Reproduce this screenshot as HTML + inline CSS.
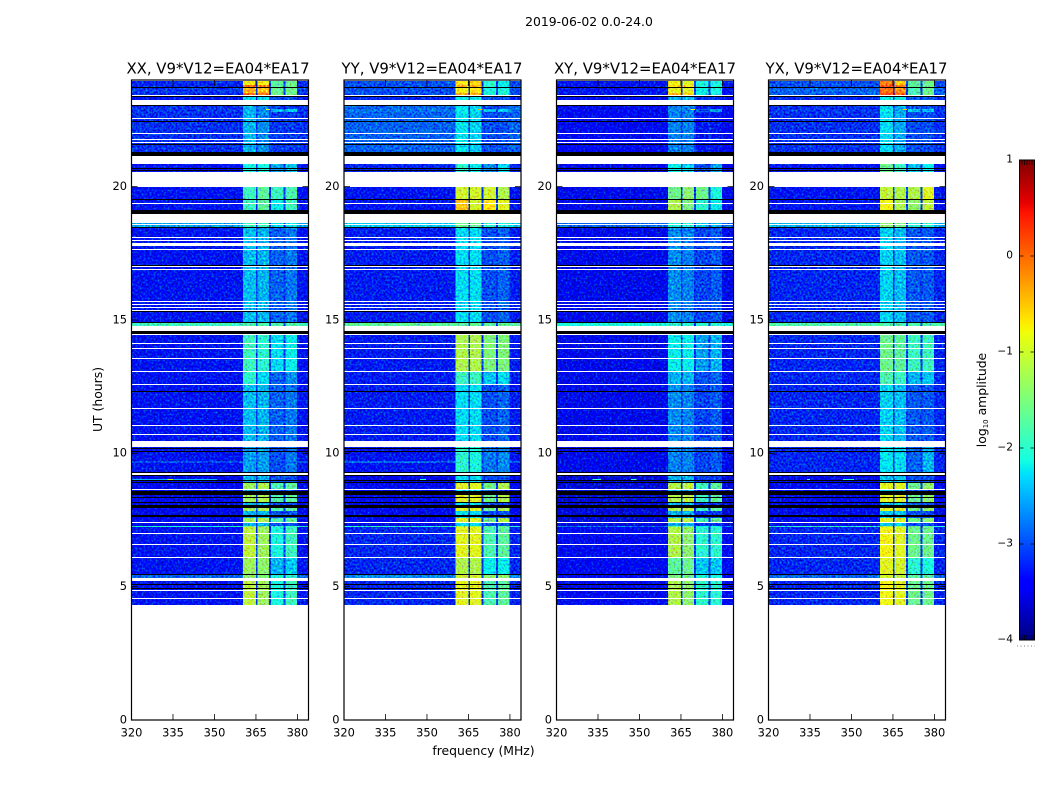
<!DOCTYPE html>
<html>
<head>
<meta charset="utf-8">
<title>2019-06-02 spectrogram</title>
<style>
  html, body { margin: 0; padding: 0; background: #fff; }
  svg { display: block; }
  text { font-family: "DejaVu Sans", "Liberation Sans", sans-serif; fill: #000; }
</style>
</head>
<body>
<svg id="chart" width="1050" height="800" viewBox="0 0 1050 800" xmlns="http://www.w3.org/2000/svg">
  <defs>
    <filter id="grain" filterUnits="userSpaceOnUse" x="0" y="0" width="1050" height="800" color-interpolation-filters="sRGB">
      <feTurbulence type="fractalNoise" baseFrequency="0.5" numOctaves="1" seed="7" result="n"/>
      <feColorMatrix in="n" type="matrix" values="0 0 0 0 0.5  1 0 0 0 0  0 1 0 0 0  0 0 0 0 1" result="g"/>
      <feComposite in="SourceGraphic" in2="g" operator="arithmetic" k1="0" k2="1" k3="1.2" k4="-0.6" result="m"/>
      <feComposite in="m" in2="SourceAlpha" operator="in"/>
    </filter>
  </defs>
  <text x="589" y="26" text-anchor="middle" font-size="12.4">2019-06-02 0.0-24.0</text>
  <text x="483.5" y="755" text-anchor="middle" font-size="12.4">frequency (MHz)</text>
  <text transform="translate(102,399.5) rotate(-90)" text-anchor="middle" font-size="12.4">UT (hours)</text>
  <text transform="translate(986,400) rotate(-90)" text-anchor="middle" font-size="12.4">log<tspan font-size="7" dy="2">10</tspan><tspan dy="-2"> amplitude</tspan></text>
  <g id="panels"></g>
  <g id="colorbar"></g>
</svg>
<script>
// ---- axis data ----
const polarizations = ['XX', 'YY', 'XY', 'YX'];
const panelLefts = [131.5, 344, 556.5, 768.5];
const freqTicks = [320, 335, 350, 365, 380];
const utTicks = [0, 5, 10, 15, 20];
const freqDomain = [320, 384];
const utDomain = [0, 24];
const cbarTicks = [1, 0, -1, -2, -3, -4];
const cbarDomain = [-4, 1];

// channel edges in MHz and which level slot each span reads (0 bg,1 A,2 B,3 C,4 D,-1 band gap)
const channelEdges = [320, 360.4, 365.1, 365.5, 369.8, 370.5, 374.9, 375.6, 379.9, 384];
const channelSlots = [0, 1, -1, 2, -1, 3, -1, 4, 0];
const bandGapLevel = -3.1;

// log10 amplitude for each time zone: [background, band A, band B, band C, band D]
const levelsXX = {
  z0: [-3.2, -0.8, -0.8, -1.7, -1.6], z0a: [-3.2, 0.0, -0.1, -1.7, -1.6], z1: [-3.1, -0.4, -0.5, -1.6, -1.6], z1a: [-3.2, -0.0, -0.1, -1.6, -1.6],
  z2: [-3.3, -2.3, -2.3, -3.0, -3.0],
  z3: [-3.15, -2.5, -2.7, -3.1, -3.1], z3a: [-3.1, -2.5, -2.7, -2.5, -2.4], z4: [-3.3, -2.1, -2.1, -2.6, -2.4],
  z5: [-3.3, -1.9, -1.7, -1.9, -1.8], z6: [-3.3, -1.9, -1.7, -2.2, -1.9], z7: [-2.6, -1.9, -1.9, -2.3, -2.2],
  z8: [-3.3, -2.45, -2.5, -2.9, -2.8], z9: [-1.9, -1.8, -1.8, -1.8, -1.8], z9b: [-2.1, -1.5, -1.5, -1.9, -1.9],
  z10: [-3.3, -1.9, -2.0, -2.3, -2.2], z11: [-3.3, -2.0, -2.3, -2.9, -2.7], z12: [-3.3, -2.6, -2.6, -3.0, -2.8],
  z12b: [-3.0, -2.6, -2.6, -3.0, -2.8], z13: [-3.4, -1.3, -1.2, -1.8, -1.7], z14: [-3.5, -2.5, -2.5, -3.0, -3.0],
  z15: [-3.3, -1.1, -1.3, -2.1, -1.9], z16: [-3.3, -1.3, -1.4, -2.5, -2.4], z17: [-2.9, -1.4, -1.5, -2.1, -2.0]
};
const levelsYY = {
  z0: [-3.0, -0.7, -0.6, -2.0, -2.2], z0a: [-3.0, -0.4, -0.4, -2.0, -2.2], z1: [-3.0, -0.8, -0.7, -2.1, -2.1], z1a: [-3.0, -0.3, -0.3, -2.1, -2.1],
  z2: [-3.2, -2.2, -2.2, -3.0, -3.0],
  z3: [-2.9, -2.25, -2.35, -3.0, -3.0], z3a: [-2.8, -2.2, -2.3, -2.5, -2.4], z4: [-3.2, -2.0, -2.2, -2.7, -2.3],
  z5: [-3.3, -1.0, -1.0, -1.0, -1.2], z6: [-3.3, -0.5, -1.0, -0.7, -0.9], z7: [-2.4, -1.6, -1.6, -2.0, -2.1],
  z8: [-3.25, -2.3, -2.3, -3.0, -2.9], z9: [-1.7, -1.7, -1.7, -1.7, -1.7], z9b: [-2.0, -1.3, -1.3, -1.7, -1.7],
  z10: [-3.25, -1.2, -1.2, -1.5, -1.5], z11: [-3.25, -1.9, -1.9, -2.4, -2.3], z12: [-3.3, -2.0, -2.1, -2.8, -2.7],
  z12b: [-2.9, -2.0, -2.1, -2.8, -2.7], z13: [-3.4, -0.9, -0.9, -1.6, -1.2], z14: [-3.5, -2.3, -2.3, -3.0, -3.0],
  z15: [-3.2, -0.9, -0.9, -1.8, -1.7], z16: [-3.2, -1.2, -1.2, -2.2, -2.2], z17: [-2.7, -1.0, -1.0, -1.4, -1.4]
};
const levelsXY = {
  z0: [-3.3, -0.8, -0.9, -2.1, -2.1], z0a: [-3.3, -0.6, -0.7, -2.1, -2.1], z1: [-3.3, -0.9, -0.9, -2.2, -2.1], z1a: [-3.3, -0.4, -0.5, -2.2, -2.1],
  z2: [-3.4, -2.5, -2.5, -3.1, -3.1],
  z3: [-3.45, -2.75, -2.75, -3.3, -3.3], z3a: [-3.4, -2.7, -2.7, -2.9, -2.6], z4: [-3.5, -2.2, -2.3, -3.0, -2.6],
  z5: [-3.5, -1.6, -1.4, -1.6, -2.1], z6: [-3.5, -1.2, -1.5, -2.0, -2.2], z7: [-2.9, -2.1, -2.0, -2.4, -2.5],
  z8: [-3.5, -2.7, -2.75, -3.05, -2.95], z9: [-2.1, -2.0, -2.0, -2.0, -2.0], z9b: [-2.8, -1.7, -1.7, -2.2, -2.2],
  z10: [-3.5, -2.2, -2.2, -2.6, -2.5], z11: [-3.5, -2.5, -2.5, -3.0, -2.9], z12: [-3.5, -2.75, -2.75, -3.05, -2.95],
  z12b: [-3.5, -2.75, -2.75, -3.05, -2.95], z13: [-3.6, -1.2, -1.1, -1.9, -1.7], z14: [-3.6, -2.5, -2.5, -3.1, -3.1],
  z15: [-3.45, -1.2, -1.4, -2.0, -2.0], z16: [-3.45, -1.7, -1.6, -2.4, -2.4], z17: [-3.4, -1.5, -1.6, -2.1, -2.1]
};
const levelsYX = {
  z0: [-3.0, -0.1, -0.5, -1.7, -1.6], z0a: [-3.0, 0.05, -0.1, -1.7, -1.6], z1: [-2.9, 0.0, -0.2, -1.8, -1.6], z1a: [-2.9, 0.15, 0.05, -1.8, -1.6],
  z2: [-3.2, -2.2, -2.2, -2.9, -2.9],
  z3: [-3.15, -2.3, -2.55, -3.0, -3.0], z3a: [-3.1, -2.2, -2.5, -2.4, -2.4], z4: [-3.3, -1.6, -1.9, -2.4, -2.2],
  z5: [-3.3, -1.1, -1.2, -1.2, -0.9], z6: [-3.3, -0.8, -1.2, -1.4, -1.1], z7: [-2.5, -1.4, -1.5, -2.0, -2.0],
  z8: [-3.2, -2.35, -2.45, -2.95, -2.95], z9: [-1.8, -1.8, -1.8, -1.8, -1.8], z9b: [-2.0, -1.3, -1.3, -1.7, -1.7],
  z10: [-3.2, -1.6, -1.7, -1.9, -1.9], z11: [-3.2, -1.8, -1.9, -2.5, -2.4], z12: [-3.2, -2.25, -2.3, -2.9, -2.5],
  z12b: [-3.2, -2.25, -2.3, -2.9, -2.5], z13: [-3.4, -0.9, -0.9, -1.6, -1.4], z14: [-3.5, -2.4, -2.4, -3.0, -3.0],
  z15: [-3.2, -0.8, -0.9, -1.6, -1.6], z16: [-3.2, -0.9, -1.0, -2.0, -2.1], z17: [-2.9, -1.0, -1.1, -1.7, -1.7]
};
const levelsByPol = { XX: levelsXX, YY: levelsYY, XY: levelsXY, YX: levelsYX };

// time rows: [UT top, UT bottom, zone]; 'flag' rows are black; anything unlisted stays blank
const timeRows = [
  [23.96, 23.80, 'z0'], [23.80, 23.74, 'z0a'], [23.74, 23.70, 'flag'], [23.70, 23.50, 'z1'], [23.50, 23.42, 'z1a'], [23.40, 23.36, 'flag'], [23.36, 23.25, 'z2'],
  [23.06, 23.03, 'flag'], [23.03, 22.91, 'z3'], [22.91, 22.80, 'z3a'], [22.80, 22.58, 'z3'], [22.54, 22.46, 'z3'],
  [22.46, 22.43, 'flag'], [22.43, 22.01, 'z3'], [21.98, 21.77, 'z3'], [21.75, 21.68, 'z3'], [21.64, 21.60, 'z3'],
  [21.60, 21.56, 'flag'], [21.56, 21.30, 'z3'], [21.30, 21.15, 'flag'], [20.85, 20.70, 'z4'], [20.70, 20.66, 'flag'],
  [20.66, 20.63, 'z4'], [20.63, 20.59, 'flag'], [20.59, 20.55, 'z4'], [19.99, 19.54, 'z5'], [19.54, 19.50, 'flag'],
  [19.50, 19.46, 'z6'], [19.46, 19.39, 'z6'], [19.35, 19.13, 'z6'], [19.13, 18.98, 'flag'], [18.63, 18.59, 'z7'],
  [18.56, 18.47, 'z7'], [18.47, 18.44, 'flag'], [18.44, 18.11, 'z8'], [18.08, 18.00, 'z8'], [17.96, 17.87, 'z8'],
  [17.78, 17.67, 'z8'], [17.64, 17.06, 'z8'], [17.06, 17.03, 'flag'], [16.99, 16.92, 'z8'], [16.89, 15.71, 'z8'],
  [15.68, 15.60, 'z8'], [15.56, 15.49, 'z8'], [15.45, 15.39, 'z8'], [15.35, 15.32, 'z8'], [15.32, 15.30, 'flag'],
  [15.30, 14.94, 'z8'], [14.94, 14.91, 'flag'], [14.90, 14.78, 'z9'], [14.59, 14.49, 'flag'], [14.44, 14.13, 'z10'],
  [14.09, 13.95, 'z10'], [13.92, 13.58, 'z10'], [13.55, 13.08, 'z10'], [13.05, 12.60, 'z11'], [12.56, 12.33, 'z8'],
  [12.33, 12.30, 'flag'], [12.30, 11.70, 'z8'], [11.66, 11.06, 'z8'], [11.03, 10.73, 'z8'], [10.69, 10.47, 'z8'],
  [10.25, 10.20, 'z12'], [10.20, 10.16, 'flag'], [10.16, 10.09, 'z12'], [10.09, 10.05, 'flag'], [10.05, 9.71, 'z12'],
  [9.71, 9.64, 'z12b'], [9.64, 9.30, 'z12'], [9.30, 9.26, 'flag'], [9.20, 9.15, 'flag'], [9.15, 9.00, 'z14'],
  [9.00, 8.96, 'flag'], [8.96, 8.93, 'z14'], [8.93, 8.89, 'flag'], [8.89, 8.66, 'z13'], [8.63, 8.59, 'z14'],
  [8.59, 8.44, 'flag'], [8.44, 8.35, 'z13'], [8.35, 8.31, 'flag'], [8.31, 8.19, 'z13'], [8.19, 8.15, 'flag'],
  [8.15, 8.06, 'z14'], [8.06, 7.94, 'flag'], [7.94, 7.85, 'z13'], [7.85, 7.69, 'z14'], [7.69, 7.60, 'flag'],
  [7.60, 7.56, 'z14'], [7.56, 7.43, 'z13'], [7.38, 7.28, 'z14'], [7.28, 7.24, 'z9b'], [7.24, 7.00, 'z15'],
  [6.96, 6.59, 'z15'], [6.55, 6.10, 'z15'], [6.06, 5.46, 'z16'], [5.46, 5.43, 'flag'], [5.42, 5.33, 'z17'],
  [5.21, 5.10, 'z15'], [5.10, 5.07, 'flag'], [5.07, 4.94, 'z15'], [4.94, 4.91, 'flag'], [4.91, 4.88, 'z15'],
  [4.84, 4.56, 'z15'], [4.54, 4.31, 'z15']
];

// isolated interference marks: [polarization, UT top, UT bottom, MHz start, MHz end, log10 amplitude]
const rfiMarks = [
  ['XX', 22.93, 22.87, 368.6, 370.1, -0.9], ['YY', 22.93, 22.87, 368.4, 370.0, -0.4],
  ['XY', 22.93, 22.87, 368.4, 370.0, -0.8], ['YX', 22.93, 22.87, 368.4, 370.0, -0.5],
  ['XX', 9.04, 9.00, 320.3, 351, -2.5], ['XX', 9.04, 9.00, 333, 335, -1.0],
  ['YY', 9.04, 9.00, 347.5, 349.6, -2.0], ['XY', 9.04, 9.00, 333, 336, -2.0],
  ['XY', 9.04, 9.00, 347, 349, -1.9], ['YX', 9.04, 9.00, 347, 351, -2.0],
  ['YX', 9.04, 9.00, 334, 335, -2.0]
];

// ---- layout and scales ----
const SVGNS = 'http://www.w3.org/2000/svg';
const panelWidth = 177, plotTop = 80, plotBottom = 720;
const titleNudge = [-2, -0.5, 0, -0.5];
const xOffset = (f) => (f - freqDomain[0]) / (freqDomain[1] - freqDomain[0]) * panelWidth;
const yScale = (u) => plotBottom - (u - utDomain[0]) / (utDomain[1] - utDomain[0]) * (plotBottom - plotTop);
const cbarTop = 160, cbarBottom = 640, cbarLeft = 1019.5, cbarRight = 1034.5;
const cbarY = (v) => cbarBottom - (v - cbarDomain[0]) / (cbarDomain[1] - cbarDomain[0]) * (cbarBottom - cbarTop);

function ramp(t, pts) {
  for (let i = 1; i < pts.length; i++) {
    if (t <= pts[i][0]) {
      const a = pts[i - 1], b = pts[i];
      return a[1] + (b[1] - a[1]) * (t - a[0]) / (b[0] - a[0]);
    }
  }
  return pts[pts.length - 1][1];
}
function jet(v) {
  const t = Math.max(0, Math.min(1, (v - cbarDomain[0]) / (cbarDomain[1] - cbarDomain[0])));
  const r = ramp(t, [[0, 0], [0.35, 0], [0.66, 1], [0.89, 1], [1, 0.5]]);
  const g = ramp(t, [[0, 0], [0.125, 0], [0.375, 1], [0.64, 1], [0.91, 0], [1, 0]]);
  const b = ramp(t, [[0, 0.5], [0.11, 1], [0.34, 1], [0.65, 0], [1, 0]]);
  return 'rgb(' + Math.round(r * 255) + ',' + Math.round(g * 255) + ',' + Math.round(b * 255) + ')';
}
function mk(tag, attrs, parent) {
  const el = document.createElementNS(SVGNS, tag);
  for (const k in attrs) el.setAttribute(k, attrs[k]);
  parent.appendChild(el);
  return el;
}

const panelsRoot = document.getElementById('panels');
polarizations.forEach((pol, p) => {
  const left = panelLefts[p];
  const levels = levelsByPol[pol];
  const panel = mk('g', {}, panelsRoot);
  
  

  const heat = mk('g', { filter: 'url(#grain)', 'shape-rendering': 'crispEdges' }, panel);
  
  
  const flags = mk('g', { 'shape-rendering': 'crispEdges' }, panel);
  
  

  timeRows.forEach((row) => {
    const y0 = Math.round(yScale(row[0]));
    const h = Math.max(1, Math.round(yScale(row[1])) - y0);
    if (row[2] === 'flag') {
      const bar = mk('rect', { x: left, y: y0, width: panelWidth, height: h, fill: '#000' }, flags);
      
      
      return;
    }
    const lv = levels[row[2]];
    channelSlots.forEach((slot, c) => {
      const x0 = left + xOffset(channelEdges[c]);
      const x1 = left + xOffset(channelEdges[c + 1]);
      const value = slot < 0 ? Math.min(bandGapLevel, lv[0] + 0.4) : lv[slot];
      const cell = mk('rect', { x: x0, y: y0, width: x1 - x0, height: h, fill: jet(value) }, heat);
      
      
    });
  });

  rfiMarks.filter((m) => m[0] === pol).forEach((m) => {
    const y0 = Math.round(yScale(m[1]));
    const mark = mk('rect', {
      x: left + xOffset(m[3]), y: y0,
      width: xOffset(m[4]) - xOffset(m[3]),
      height: Math.max(1, Math.round(yScale(m[2])) - y0), fill: jet(m[5]), 'shape-rendering': 'crispEdges'
    }, panel);
    
    
  });

  const frame = mk('rect', { x: left, y: plotTop, width: panelWidth, height: plotBottom - plotTop, fill: 'none', stroke: '#000', 'stroke-width': 1.2 }, panel);
  
  

  const ttl = mk('text', { x: left + panelWidth / 2 + titleNudge[p], y: 73.5, 'text-anchor': 'middle', 'font-size': 14.9 }, panel);
  ttl.textContent = pol + ', V9*V12=EA04*EA17';
  
  

  freqTicks.forEach((f) => {
    const x = left + xOffset(f);
    const d = 'M' + x + ' ' + plotBottom + 'V' + (plotBottom - 6) + 'M' + x + ' ' + plotTop + 'V' + (plotTop + 6);
    const t = mk('path', { d: d, stroke: '#000', 'stroke-width': 0.8, fill: 'none' }, panel);
    
    
    const lab = mk('text', { x: x, y: 736.5, 'text-anchor': 'middle', 'font-size': 11.4 }, panel);
    lab.textContent = String(f);
    
    
  });

  utTicks.forEach((u) => {
    const y = yScale(u);
    const d = 'M' + left + ' ' + y + 'H' + (left + 6) + 'M' + (left + panelWidth) + ' ' + y + 'H' + (left + panelWidth - 6);
    const t = mk('path', { d: d, stroke: '#000', 'stroke-width': 0.8, fill: 'none' }, panel);
    
    
    const lab = mk('text', { x: left - 4.5, y: y + 3.4, 'text-anchor': 'end', 'font-size': 11.4 }, panel);
    lab.textContent = String(u);
    
    
  });
});

// ---- colorbar ----
const cbarRoot = document.getElementById('colorbar');
const cbarStep = (cbarDomain[1] - cbarDomain[0]) / (cbarBottom - cbarTop);
for (let v = cbarDomain[0]; v < cbarDomain[1] - 1e-9; v += cbarStep) {
  const s = mk('rect', {
    x: cbarLeft, y: cbarY(v + cbarStep), width: cbarRight - cbarLeft, height: 1.2,
    fill: jet(v + cbarStep / 2), 'shape-rendering': 'crispEdges'
  }, cbarRoot);
  
  
}
for (let i = 1; i <= 5; i++) {
  const x = cbarLeft + i * (cbarRight - cbarLeft) / 6;
  const edge = mk('path', {
    d: 'M' + x + ' ' + cbarTop + 'V' + (cbarTop + 5) + 'M' + x + ' ' + cbarBottom + 'V' + (cbarBottom - 5),
    stroke: '#000', 'stroke-width': 0.7, fill: 'none'
  }, cbarRoot);
  
  
}
const cbFrame = mk('rect', { x: cbarLeft, y: cbarTop, width: cbarRight - cbarLeft, height: cbarBottom - cbarTop, fill: 'none', stroke: '#000', 'stroke-width': 1 }, cbarRoot);


cbarTicks.forEach((v) => {
  const y = cbarY(v);
  const d = 'M' + cbarLeft + ' ' + y + 'H' + (cbarLeft + 4) + 'M' + cbarRight + ' ' + y + 'H' + (cbarRight - 4);
  const t = mk('path', { d: d, stroke: '#000', 'stroke-width': 0.8, fill: 'none' }, cbarRoot);
  
  
  const lab = mk('text', { x: 1013, y: y + 2.5, 'text-anchor': 'end', 'font-size': 10.6 }, cbarRoot);
  lab.textContent = String(v).replace('-', '\u2212');
  
  
});
const dots = mk('line', { x1: 1017, y1: 646, x2: 1035, y2: 646, stroke: '#777', 'stroke-width': 1, 'stroke-dasharray': '1 2.5' }, cbarRoot);


</script>
</body>
</html>
